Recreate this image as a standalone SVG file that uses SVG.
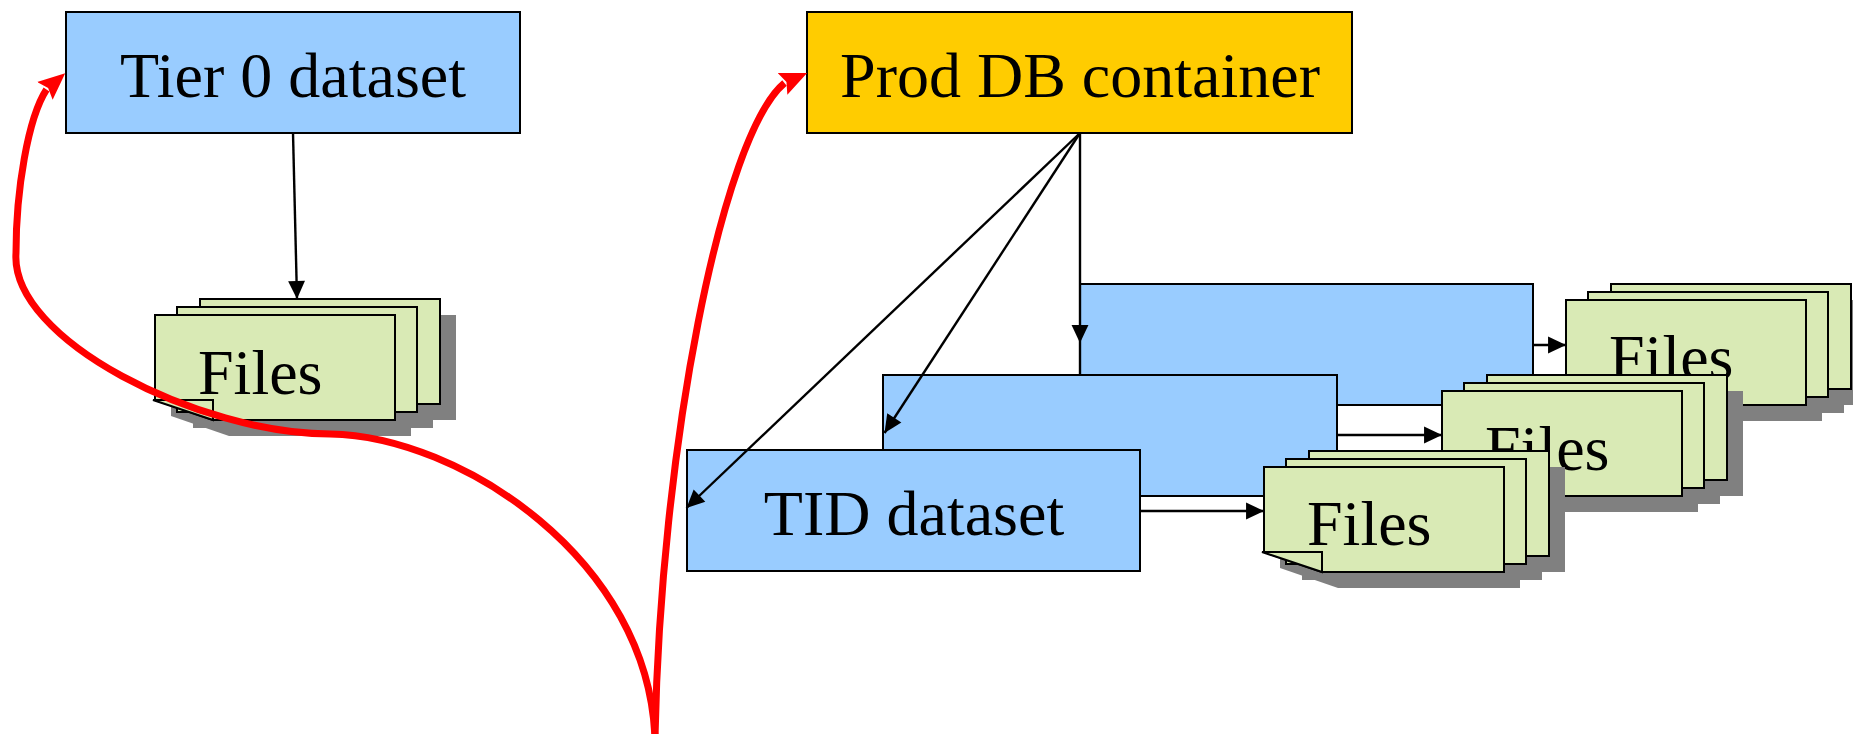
<svg xmlns="http://www.w3.org/2000/svg" xmlns:xlink="http://www.w3.org/1999/xlink" width="1853" height="734" viewBox="0 0 1853 734">
<style>
.box{stroke:#000;stroke-width:2}
.blue{fill:#99CCFF}
.yellow{fill:#FFCC00}
.sheet{fill:#D9EAB5;stroke:#000;stroke-width:2;stroke-linejoin:miter}
.shadow{fill:#808080}
.lbl{font-family:"Liberation Serif","Times New Roman",serif;font-size:64px;fill:#000}
.conn{stroke:#000;stroke-width:2.4;fill:none}
.red{stroke:#FF0000;stroke-width:7;fill:none}
</style>
<defs>
<marker id="ah" markerUnits="userSpaceOnUse" markerWidth="19" markerHeight="19" viewBox="0 -9 17 18" refX="17" refY="0" orient="auto">
<path d="M0,-8 L17,0 L0,8 Z" fill="#000"/>
</marker>
<marker id="rh1" markerUnits="userSpaceOnUse" markerWidth="28" markerHeight="26" viewBox="0 -12 26 24" refX="2" refY="0" orient="-41">
<path d="M0,-11 L25,0 L0,11 L4,0 Z" fill="#FF0000"/>
</marker>
<marker id="rh2" markerUnits="userSpaceOnUse" markerWidth="28" markerHeight="26" viewBox="0 -12 26 24" refX="2" refY="0" orient="-24">
<path d="M0,-11 L25,0 L0,11 L4,0 Z" fill="#FF0000"/>
</marker>
<g id="stack">
<rect class="shadow" x="61" y="0" width="240" height="105"/>
<rect class="shadow" x="38" y="8" width="240" height="105"/>
<polygon class="shadow" points="16,16 256,16 256,121 74,121 16,101"/>
<rect class="sheet" x="45" y="-16" width="240" height="105"/>
<rect class="sheet" x="22" y="-8" width="240" height="105"/>
<polygon class="sheet" points="0,0 240,0 240,105 58,105 0,85"/>
</g>
<polygon id="fold" class="sheet" points="-2,85 58,85 58,105"/>
</defs>

<g id="tier0">
<rect class="box blue" x="66" y="12" width="454" height="121"/>
<text class="lbl" x="293" y="97" text-anchor="middle">Tier 0 dataset</text>
</g>

<g id="files-tier0">
<use xlink:href="#stack" x="155" y="315"/>
<text class="lbl" x="198" y="394">Files</text>
<use xlink:href="#fold" x="155" y="315"/>
</g>

<g id="proddb">
<rect class="box yellow" x="807" y="12" width="545" height="121"/>
<text class="lbl" x="1080" y="97" text-anchor="middle">Prod DB container</text>
</g>

<g id="datasetA">
<rect class="box blue" x="1080" y="284" width="453" height="121"/>
</g>

<g id="files-A">
<use xlink:href="#stack" x="1566" y="300"/>
<text class="lbl" x="1609" y="379">Files</text>
<use xlink:href="#fold" x="1566" y="300"/>
</g>

<g id="datasetB">
<rect class="box blue" x="883" y="375" width="454" height="121"/>
</g>

<g id="files-B">
<use xlink:href="#stack" x="1442" y="391"/>
<text class="lbl" x="1485" y="470">Files</text>
<use xlink:href="#fold" x="1442" y="391"/>
</g>

<g id="tid">
<rect class="box blue" x="687" y="450" width="453" height="121"/>
<text class="lbl" x="914" y="535" text-anchor="middle">TID dataset</text>
</g>

<g id="files-tid">
<use xlink:href="#stack" x="1264" y="467"/>
<text class="lbl" x="1307" y="545">Files</text>
<use xlink:href="#fold" x="1264" y="467"/>
</g>

<g id="connectors">
<line class="conn" x1="293" y1="133" x2="297" y2="299" marker-end="url(#ah)"/>
<line class="conn" x1="1080" y1="133" x2="1080" y2="343" marker-end="url(#ah)"/>
<line class="conn" x1="1080" y1="343" x2="1080" y2="375"/>
<line class="conn" x1="1080" y1="133" x2="884.5" y2="433" marker-end="url(#ah)"/>
<line class="conn" x1="1080" y1="133" x2="686.5" y2="508" marker-end="url(#ah)"/>
<line class="conn" x1="1533" y1="345" x2="1566" y2="345" marker-end="url(#ah)"/>
<line class="conn" x1="1337" y1="435" x2="1442" y2="435" marker-end="url(#ah)"/>
<line class="conn" x1="1140" y1="511" x2="1264" y2="511" marker-end="url(#ah)"/>
<path class="red" d="M655,740 C650,560 460,436 330,434 C200,434 10,340 16,253 C16,190 28,118 46.5,89.5" marker-end="url(#rh1)"/>
<path class="red" d="M655,740 C660,450 722,135 784.5,83" marker-end="url(#rh2)"/>
</g>
</svg>
